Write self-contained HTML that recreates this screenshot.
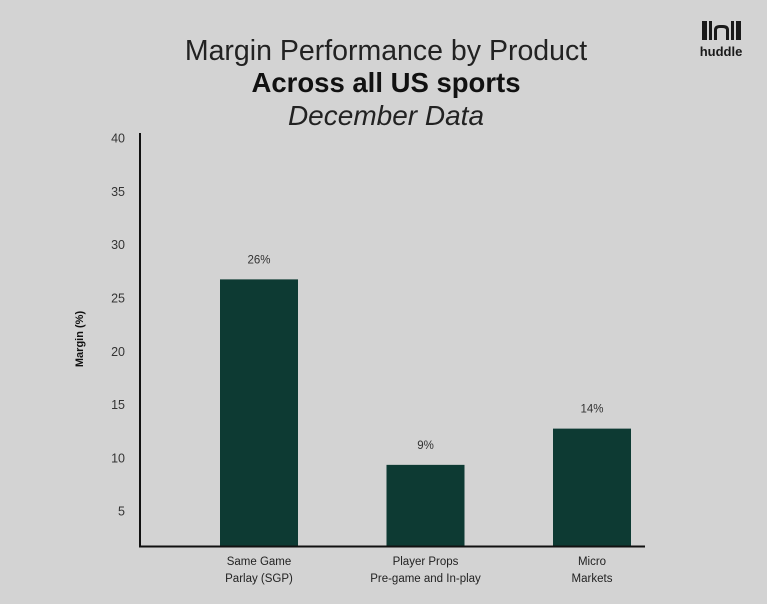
<!DOCTYPE html>
<html><head><meta charset="utf-8"><style>
html,body{margin:0;padding:0;background:#d3d3d3;}
svg{display:block;font-family:"Liberation Sans",sans-serif;}
</style></head><body>
<svg id="chart" width="767" height="604">
<rect width="767" height="604" fill="#d3d3d3"/>
<text x="386" y="60" text-anchor="middle" font-size="28.5" fill="#222">Margin Performance by Product</text>
<text x="386" y="92" text-anchor="middle" font-size="27.5" font-weight="bold" fill="#111">Across all US sports</text>
<text x="386" y="125" text-anchor="middle" font-size="28" font-style="italic" fill="#222">December Data</text>
<g fill="#1a1a1a">
<rect x="702" y="21" width="5" height="19"/><rect x="709" y="21" width="3" height="19"/>
<path d="M714 40 L714 30 Q714 25 720 25 L723 25 Q729 25 729 30 L729 40 L726 40 L726 30 Q726 28 722 28 L720 28 Q717 28 717 30 L717 40Z"/>
<rect x="731" y="21" width="3" height="19"/><rect x="736" y="21" width="5" height="19"/>
<text x="721" y="56" text-anchor="middle" font-size="13" font-weight="bold">huddle</text>
</g>
<text transform="translate(83,339) rotate(-90)" text-anchor="middle" font-size="11" font-weight="bold" fill="#111">Margin (%)</text>
<g id="yticks"></g><g id="bars"></g>
<line x1="140" y1="133" x2="140" y2="547" stroke="#111" stroke-width="2"/>
<line x1="139" y1="546.5" x2="645" y2="546.5" stroke="#111" stroke-width="2"/>
</svg>
<script>
const categories=[["Same Game","Parlay (SGP)"],["Player Props","Pre-game and In-play"],["Micro","Markets"]];
const values=[26.7,9.3,12.7];
const valueLabels=["26%","9%","14%"];
const yTicks=[5,10,15,20,25,30,35,40];
const NS="http://www.w3.org/2000/svg";
function y(v){return 564-10.66*v;}
function xc(i){return 259+166.5*i;}
const yt=document.getElementById('yticks');
yTicks.forEach(t=>{const e=document.createElementNS(NS,'text');


e.setAttribute('x',125);e.setAttribute('y',y(t)+5);e.setAttribute('text-anchor','end');
e.setAttribute('font-size','12.5');e.setAttribute('fill','#333');e.textContent=t;yt.appendChild(e);});
const bg=document.getElementById('bars');
values.forEach((v,i)=>{const r=document.createElementNS(NS,'rect');


r.setAttribute('x',xc(i)-39);r.setAttribute('width',78);r.setAttribute('y',y(v));r.setAttribute('height',546-y(v));
r.setAttribute('fill','#0d3a33');bg.appendChild(r);
const l=document.createElementNS(NS,'text');


l.setAttribute('x',xc(i));l.setAttribute('y',y(v)-16);l.setAttribute('text-anchor','middle');l.setAttribute('font-size','11.5');l.setAttribute('fill','#333');
l.textContent=valueLabels[i];bg.appendChild(l);
categories[i].forEach((s,j)=>{const c=document.createElementNS(NS,'text');


c.setAttribute('x',xc(i));c.setAttribute('y',565+j*17);c.setAttribute('text-anchor','middle');c.setAttribute('font-size','11.5');c.setAttribute('fill','#222');
c.textContent=s;bg.appendChild(c);});});
</script>
</body></html>
